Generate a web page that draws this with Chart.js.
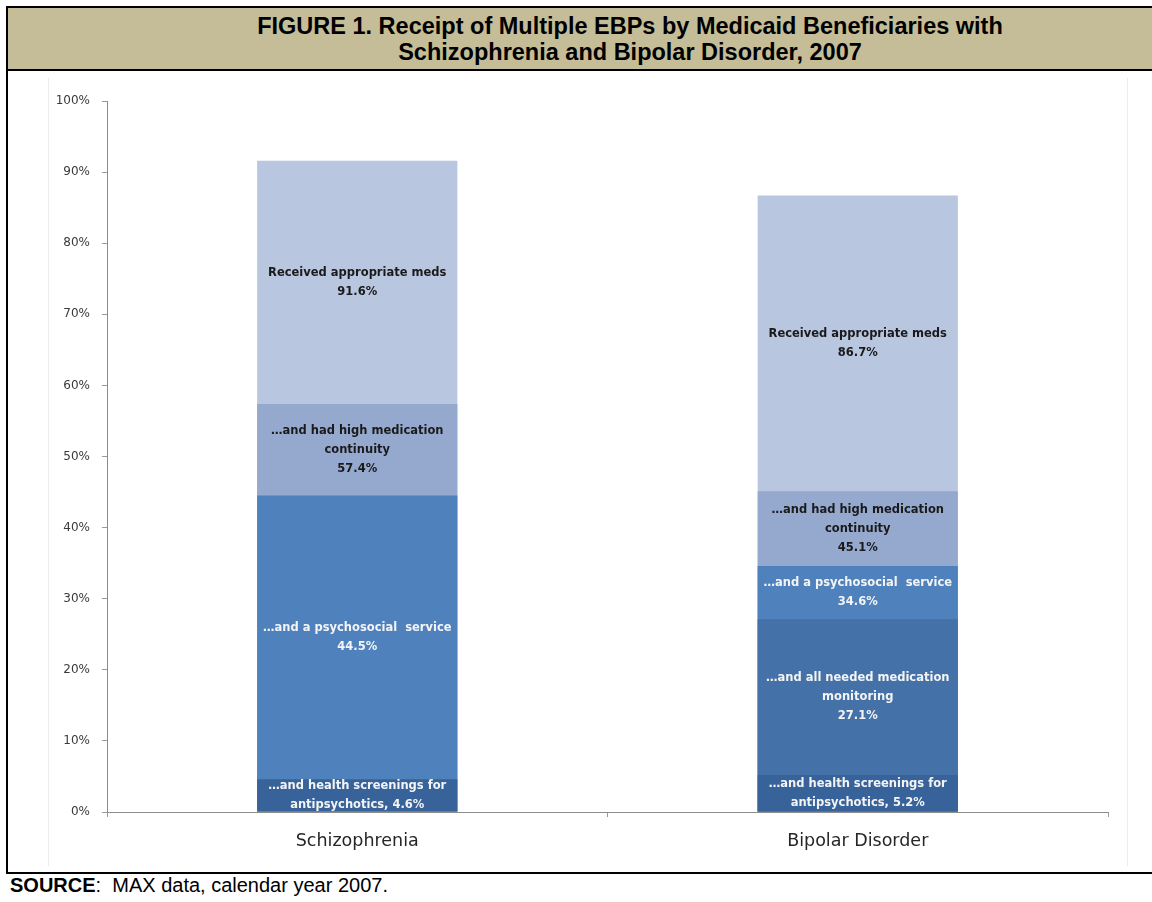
<!DOCTYPE html>
<html>
<head>
<meta charset="utf-8">
<title>Receipt of Multiple EBPs, 2007</title>
<script src="https://cdn.jsdelivr.net/npm/chart.js@4.4.1/dist/chart.umd.min.js"></script>
<style>
    html, body { margin: 0; padding: 0; background: #fff; }
    body { width: 1152px; height: 902px; position: relative; overflow: hidden; }
    .frame {
        position: absolute; left: 6px; top: 6px; width: 1146px; height: 864px;
        border-left: 2px solid #000; border-top: 2px solid #000; border-bottom: 2px solid #000;
    }
    /* the figure box runs past the right edge, so the heading sits right of centre */
    .fig-title {
        position: absolute; left: 8px; top: 8px; width: 1144px; height: 63px;
        background: #c4bd97; border-bottom: 2px solid #000;
        font: bold 23.5px "Liberation Sans", Arial, sans-serif; color: #000;
        text-align: center; line-height: 25.5px; padding: 6px 0 0 100px; box-sizing: border-box;
    }
    .plot-edge {
        position: absolute; left: 48px; top: 78px; width: 1078px; height: 788px;
        border-left: 1px solid #ececec; border-right: 1px solid #ececec;
    }
    #chartBox { position: absolute; left: 8px; top: 73px; width: 1144px; height: 799px; }
    .source {
        position: absolute; left: 10px; top: 874px;
        font: 20px "Liberation Sans", Arial, sans-serif; color: #000;
    }
</style>
</head>
<body>
<div class="frame"></div>
<div class="fig-title">FIGURE 1. Receipt of Multiple EBPs by Medicaid Beneficiaries with<br>Schizophrenia and Bipolar Disorder, 2007</div>
<div class="plot-edge"></div>
<div id="chartBox"><canvas id="ebpChart" width="1144" height="799"></canvas></div>
<div class="source"><b>SOURCE</b>:&nbsp; MAX data, calendar year 2007.</div>

<script>
const categories = ["Schizophrenia", "Bipolar Disorder"];
const percentTicks = [0, 10, 20, 30, 40, 50, 60, 70, 80, 90, 100];

// each series is the share receiving that service and everything below it
const screenings = [4.6, 5.2];
const monitoring = [null, 27.1];
const psychosocial = [44.5, 34.6];
const continuity = [57.4, 45.1];
const appropriateMeds = [91.6, 86.7];

const LABEL_FONT = "bold 11.5px 'DejaVu Sans', sans-serif";
const AXIS_FONT = "'DejaVu Sans', sans-serif";

const series = [
    { data: screenings, color: "#38639a", ink: "#f4f4f4",
      caption: ["\u2026and health screenings for", "antipsychotics, {v}"] },
    { data: monitoring, color: "#4371a8", ink: "#f4f4f4",
      caption: ["\u2026and all needed medication", "monitoring", "{v}"] },
    { data: psychosocial, color: "#4f81bd", ink: "#f4f4f4",
      caption: ["\u2026and a psychosocial  service", "{v}"] },
    { data: continuity, color: "#95a9cf", ink: "#1a1a1a",
      caption: ["\u2026and had high medication", "continuity", "{v}"] },
    { data: appropriateMeds, color: "#b9c6df", ink: "#1a1a1a",
      caption: ["Received appropriate meds", "{v}"] },
];

// write the caption of every bar in the middle of the part of it left visible
const segmentLabels = {
    id: "segmentLabels",
    afterDatasetsDraw(chart) {
        const { ctx } = chart;
        const y = chart.scales.y;
        ctx.save();
        ctx.font = LABEL_FONT;
        ctx.textAlign = "center";
        ctx.textBaseline = "middle";
        series.forEach((s, di) => {
            const meta = chart.getDatasetMeta(di);
            s.data.forEach((v, i) => {
                if (v == null) return;
                let floor = 0;
                series.forEach((o) => {
                    const w = o.data[i];
                    if (w != null && w < v && w > floor) floor = w;
                });
                const mid = (y.getPixelForValue(v) + y.getPixelForValue(floor)) / 2;
                const lines = s.caption.map((t) => t.replace("{v}", v.toFixed(1) + "%"));
                const lh = 19;
                const x = meta.data[i].x;
                ctx.fillStyle = s.ink;
                lines.forEach((t, k) => {
                    ctx.fillText(t, x, mid + (k - (lines.length - 1) / 2) * lh);
                });
            });
        });
        ctx.restore();
    },
};

document.addEventListener("DOMContentLoaded", () => {
    const ctx = document.getElementById("ebpChart");
    new Chart(ctx, {
        type: "bar",
        data: {
            labels: categories,
            datasets: series.map((s) => ({
                data: s.data,
                backgroundColor: s.color,
                borderWidth: 0,
                grouped: false,
                barPercentage: 0.4,
                categoryPercentage: 1,
            })),
        },
        options: {
            responsive: false,
            animation: false,
            layout: { padding: { top: 28, right: 44, left: 0, bottom: 0 } },
            plugins: { legend: { display: false }, tooltip: { enabled: false } },
            scales: {
                x: {
                    grid: { offset: true, drawOnChartArea: false, tickLength: 5, color: "#9a9a9a" },
                    border: { color: "#8c8c8c" },
                    ticks: { color: "#262626", padding: 14, font: { family: AXIS_FONT, size: 17.5 } },
                    afterFit: (s) => { s.height = 60; },
                },
                y: {
                    min: 0,
                    max: 100,
                    afterBuildTicks: (axis) => { axis.ticks = percentTicks.map((v) => ({ value: v })); },
                    grid: { drawOnChartArea: false, tickLength: 5, color: "#9a9a9a" },
                    border: { color: "#8c8c8c" },
                    ticks: {
                        color: "#3a3a3a",
                        padding: 12,
                        font: { family: AXIS_FONT, size: 12 },
                        callback: (v) => v + "%",
                    },
                    afterFit: (s) => { s.width = 99; },
                },
            },
        },
        plugins: [segmentLabels],
    });
});
</script>
</body>
</html>
